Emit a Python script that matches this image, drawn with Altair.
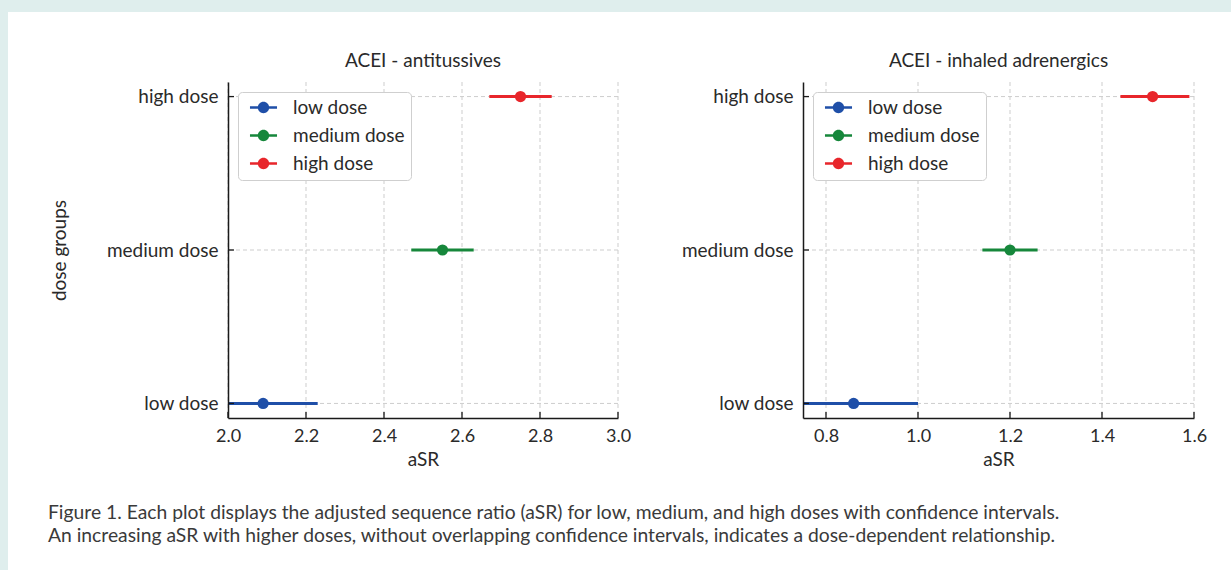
import altair as alt
import pandas as pd

# ---------------- data ----------------
doses = ["low dose", "medium dose", "high dose"]
dose_colors = ["#1f4fa8", "#16873b", "#e8262b"]

p1_title = "ACEI - antitussives"
p1_asr = [2.09, 2.55, 2.75]
p1_lo = [1.95, 2.47, 2.67]
p1_hi = [2.23, 2.63, 2.83]
p1_ticks = [2.0, 2.2, 2.4, 2.6, 2.8, 3.0]
p1_domain = [2.0, 3.0]

p2_title = "ACEI - inhaled adrenergics"
p2_asr = [0.86, 1.20, 1.51]
p2_lo = [0.71, 1.14, 1.44]
p2_hi = [1.00, 1.26, 1.59]
p2_ticks = [0.8, 1.0, 1.2, 1.4, 1.6]
p2_domain = [0.75, 1.6]

x_title = "aSR"
y_title = "dose groups"
caption_lines = [
    "Figure 1. Each plot displays the adjusted sequence ratio (aSR) for low, medium, and high doses with confidence intervals.",
    "An increasing aSR with higher doses, without overlapping confidence intervals, indicates a dose-dependent relationship.",
]

# ---------------- style ----------------
FONT = "Lato"
FS = 19
H = 336
BG = "#dfeeed"
TEXT = "#2a2a2a"
GRID = "#cdcdcd"
AXIS = "#1a1a1a"
SYMBOL = ("M-1.69,-0.17H1.69V0.17H-1.69Z "
          "M0.71,0A0.71,0.71,0,1,1,-0.71,0A0.71,0.71,0,1,1,0.71,0Z")


def panel(title, asr, lo, hi, ticks, domain, width, ytitle, extra_back=None, extra_front=None):
    df = pd.DataFrame({"dose": doses, "asr": asr, "lo": lo, "hi": hi})
    tdf = pd.DataFrame({"t": ticks})
    ttl = pd.DataFrame({"title": [title]})

    xscale = alt.Scale(domain=domain, nice=False, zero=False)
    yscale = alt.Scale(type="point", domain=doses[::-1], padding=0.095)
    cscale = alt.Scale(domain=doses, range=dose_colors)

    xaxis = alt.Axis(title=x_title, values=ticks, format=".1f", grid=False, ticks=False,
                     domainColor=AXIS, domainWidth=1.5, labelFont=FONT, labelFontSize=18,
                     labelColor=TEXT, labelPadding=9, titleFont=FONT, titleFontSize=FS,
                     titleFontWeight="normal", titleColor=TEXT, titlePadding=5, zindex=1,
                     labelFlush=False)
    yaxis_kw = dict(grid=False, ticks=False, domainColor=AXIS, domainWidth=1.5,
                    labelFont=FONT, labelFontSize=FS, labelColor=TEXT, labelPadding=10,
                    zindex=1, labelLimit=300)
    if ytitle:
        yaxis = alt.Axis(title=ytitle, titleFont=FONT, titleFontSize=FS, titleFontWeight="normal",
                         titleColor=TEXT, titlePadding=37, **yaxis_kw)
    else:
        yaxis = alt.Axis(title=None, **yaxis_kw)

    X = lambda f: alt.X(f, type="quantitative", scale=xscale, axis=xaxis)
    Y = alt.Y("dose:N", scale=yscale, axis=yaxis)

    legend = alt.Legend(title=None, orient="top-left", offset=10, fillColor="white",
                        strokeColor="#cfcfcf", cornerRadius=4, padding=6,
                        labelFont=FONT, labelFontSize=FS, labelColor=TEXT,
                        symbolType=SYMBOL, symbolSize=256, symbolStrokeWidth=0,
                        symbolOpacity=1, symbolOffset=10, labelOffset=20, rowPadding=8)

    grid_x = alt.Chart(tdf).mark_rule(color=GRID, strokeDash=[4, 3], strokeWidth=1).encode(x=X("t"))
    grid_y = alt.Chart(df).mark_rule(color=GRID, strokeDash=[4, 3], strokeWidth=1).encode(y=Y)
    err = alt.Chart(df).mark_rule(strokeWidth=3, clip=True).encode(
        x=X("lo"), x2="hi", y=Y,
        color=alt.Color("dose:N", scale=cscale, legend=legend))
    pts = alt.Chart(df).mark_circle(size=125, opacity=1).encode(
        x=X("asr"), y=Y,
        color=alt.Color("dose:N", scale=cscale, legend=legend))
    tick_x = alt.Chart(tdf).mark_rule(color=AXIS, strokeWidth=1.3).encode(
        x=X("t"), y=alt.value(H), y2=alt.value(H - 6))
    tick_y = alt.Chart(df).mark_rule(color=AXIS, strokeWidth=1.3).encode(
        y=Y, x=alt.value(0), x2=alt.value(6))
    title_txt = alt.Chart(ttl).mark_text(
        font=FONT, fontSize=FS, color=TEXT, align="center", baseline="alphabetic").encode(
        text="title:N", x=alt.value(width / 2), y=alt.value(-15))

    layers = []
    if extra_back is not None:
        layers.append(extra_back)
    layers += [grid_x, grid_y, err, pts, tick_x, tick_y, title_txt]
    if extra_front is not None:
        layers.append(extra_front)
    return alt.layer(*layers).properties(width=width, height=H)


# white card behind everything (drawn in the first panel, not clipped)
card = alt.Chart(pd.DataFrame({"c": [0]})).mark_rect(color="white").encode(
    x=alt.value(-220), x2=alt.value(1003), y=alt.value(-70), y2=alt.value(488))

caption = alt.Chart(pd.DataFrame({"txt": ["\n".join(caption_lines)]})).mark_text(
    align="left", baseline="top", font=FONT, fontSize=19.3, color="#3a3a3a",
    lineBreak="\n", lineHeight=23).encode(
    text="txt:N", x=alt.value(-180), y=alt.value(422))

left = panel(p1_title, p1_asr, p1_lo, p1_hi, p1_ticks, p1_domain, 390, y_title,
             extra_back=card, extra_front=caption)
right = panel(p2_title, p2_asr, p2_lo, p2_hi, p2_ticks, p2_domain, 391, None)

chart = alt.hconcat(left, right, spacing=185, bounds="flush").resolve_scale(
    color="independent", x="independent", y="independent"
).properties(
    padding={"left": 8, "top": 12, "right": 0, "bottom": 0},
    background=BG,
).configure_view(stroke=None)

chart.save("out.html", embed_options={"renderer": "svg", "actions": False})
